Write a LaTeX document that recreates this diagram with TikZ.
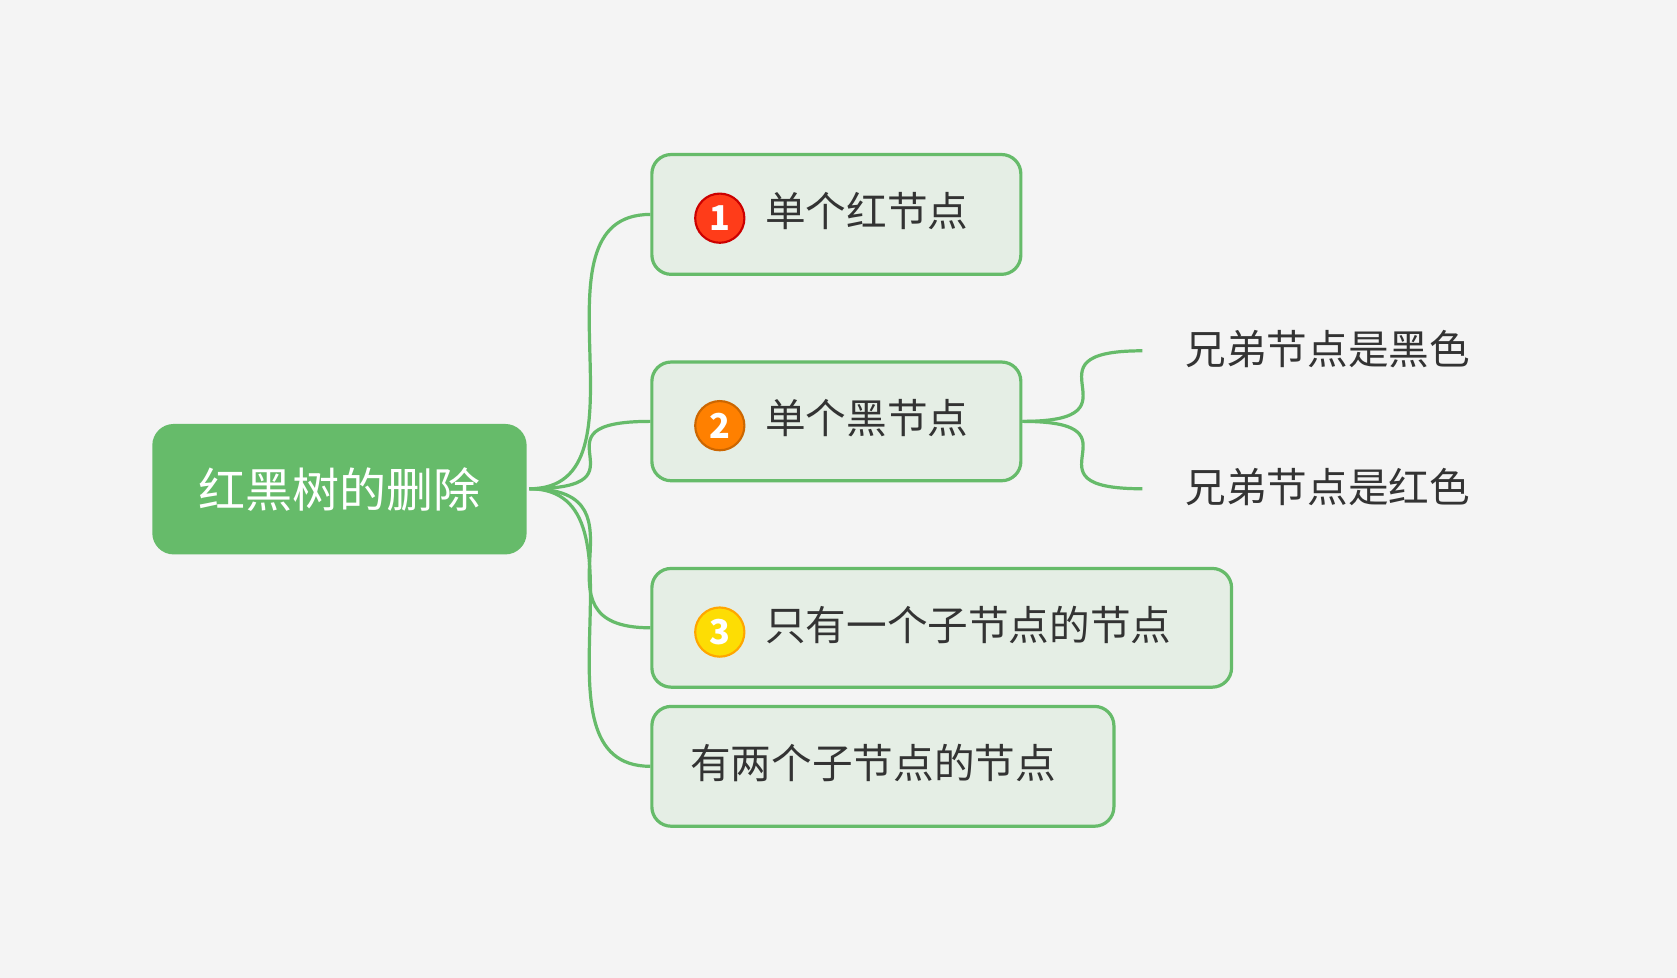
\documentclass[tikz,border=0pt]{standalone}
\usepackage{fontspec}
\setmainfont{Noto Sans CJK SC}
\definecolor{bg}{HTML}{F4F4F4}
\definecolor{gr}{HTML}{66BB6A}
\definecolor{lf}{HTML}{E5EEE5}
\definecolor{tx}{HTML}{333333}
\begin{document}
\begin{tikzpicture}[x=0.5pt,y=-0.5pt,
 box/.style={draw=gr,line width=1.5pt,fill=lf,rounded corners=9pt,anchor=north west,inner sep=0pt},
 lbl/.style={anchor=west,text=tx,font=\fontsize{19}{19}\selectfont,inner sep=0pt},
 badge/.style={circle,minimum size=23pt,inner sep=0pt,line width=1pt,text=white,font=\fontsize{16}{16}\selectfont\bfseries},
 con/.style={gr,line width=1.5pt}]
\fill[bg] (0,0) rectangle (1568,914);
\useasboundingbox (0,0) rectangle (1568,914);
\node[fill=gr,rounded corners=10pt,minimum width=175pt,minimum height=61pt,anchor=north west] (root) at (142,396) {};
\node[text=white,font=\fontsize{22}{22}\selectfont] at (root.center) {红黑树的删除};
\node[box,minimum width=172.5pt,minimum height=56pt] (n1) at (608,143) {};
\node[box,minimum width=172.5pt,minimum height=55.5pt] (n2) at (608,337) {};
\node[box,minimum width=271pt,minimum height=55.5pt] (n3) at (608,530) {};
\node[box,minimum width=216pt,minimum height=56pt] (n4) at (608,659) {};
\node[badge,fill=red!70!orange!90,draw=red!80!black] (b1) at (673,204) {1};
\node[badge,fill=orange,draw=orange!80!black] (b2) at (673,398) {2};
\node[badge,fill=yellow!80!orange,draw=orange!70!yellow] (b3) at (673,591) {3};
\node[lbl] (t1) at (715,197) {单个红节点};
\node[lbl] (t2) at (715,391) {单个黑节点};
\node[lbl] (t3) at (715,584) {只有一个子节点的节点};
\node[lbl] (t4) at (645,713) {有两个子节点的节点};
\node[lbl] (l1) at (1108,326) {兄弟节点是黑色};
\node[lbl] (l2) at (1108,455) {兄弟节点是红色};
\coordinate (r) at (495,457);
\coordinate (c1) at (1068,328);
\coordinate (c2) at (1068,457);
\foreach \n in {n1,n2,n3,n4}{
 \draw[con] (r) .. controls ([xshift=60]r) and ([xshift=-60]\n.west) .. (\n.west);}
\draw[con] (n2.east) .. controls ([xshift=60]n2.east) and ([xshift=-60]c1) .. (c1);
\draw[con] (n2.east) .. controls ([xshift=60]n2.east) and ([xshift=-60]c2) .. (c2);
\end{tikzpicture}
\end{document}
